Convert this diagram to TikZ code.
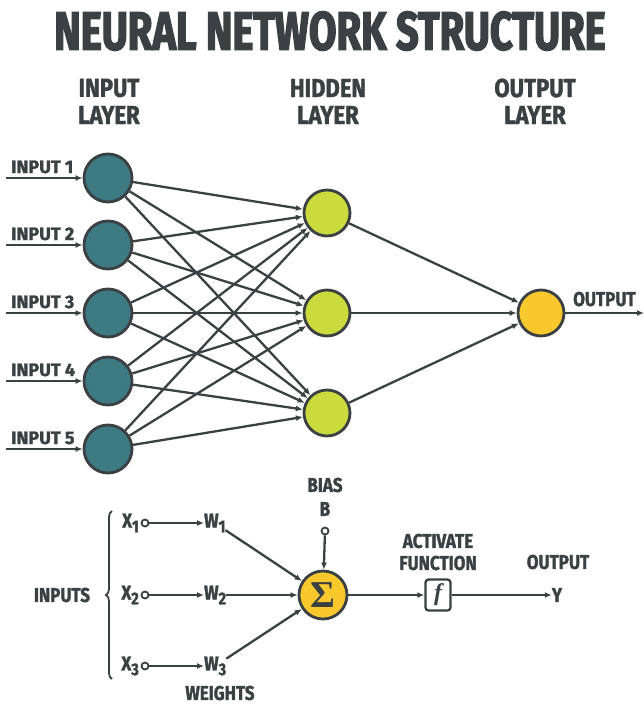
\documentclass[tikz,border=0pt]{standalone}
\usepackage{fontspec}
\usepackage{xcolor}
\usetikzlibrary{arrows.meta}
\usetikzlibrary{decorations.pathreplacing}
\setmainfont{Fira Sans}
\newfontfamily\titlefont[FakeStretch=0.74,FakeBold=2.5]{Fira Sans}
\newfontfamily\labelfont[FakeStretch=0.85,FakeBold=1.5]{Fira Sans}
\newfontfamily\smallfont[FakeStretch=1.0,FakeBold=1.5]{Fira Sans}
\newfontfamily\symbfont{Liberation Serif}

\definecolor{inkgray}{HTML}{3B4042}
\definecolor{tealnode}{HTML}{3D7A84}
\definecolor{limenode}{HTML}{CBDB3D}
\definecolor{goldnode}{HTML}{F9C82C}

\begin{document}
\begin{tikzpicture}[x=1pt,y=-1pt,
	neuron/.style={circle,draw=inkgray,line width=2.8pt,minimum size=46pt,inner sep=0pt},
	link/.style={-{Latex[length=7pt,width=6pt]},draw=inkgray,line width=2.3pt},
	plain/.style={draw=inkgray,line width=2.3pt},
	dot/.style={circle,draw=inkgray,fill=white,line width=1.8pt,minimum size=7pt,inner sep=0pt},
	lbl/.style={font=\labelfont\bfseries\fontsize{20}{20}\selectfont,text=inkgray,inner sep=0pt},
	layerlbl/.style={font=\labelfont\bfseries\fontsize{26}{26}\selectfont,text=inkgray,inner sep=0pt}]

	\useasboundingbox (0,0) rectangle (644,704);

	% Title
	\node[font=\titlefont\bfseries\fontsize{54}{54}\selectfont,text=inkgray,inner sep=0pt] (title) at (330,31) {NEURAL NETWORK STRUCTURE};

	% Layer names
	\foreach \nm/\x/\top in {in/109/INPUT,hid/328/HIDDEN,out/535/OUTPUT}{
		\node[layerlbl] (\nm name) at (\x,88) {\top};
		\node[layerlbl] (\nm name2) at (\x,115) {LAYER};
	}

	% Input layer
	\foreach \i/\y in {1/178,2/245,3/313,4/381,5/449}{
		\node[neuron,fill=tealnode,minimum size=48pt] (in\i) at (108,\y) {};
		\coordinate (src\i) at (6,\y);
		\draw[link] (src\i) -- (in\i);
		\node[lbl,font=\smallfont\bfseries\fontsize{18}{18}\selectfont,anchor=base west] (inlbl\i) at (11,\y-5) {INPUT \i};
	}

	% Hidden layer
	\foreach \j/\y in {1/213,2/313,3/413}{
		\node[neuron,fill=limenode] (hid\j) at (327,\y) {};
	}

	% Output layer
	\node[neuron,fill=goldnode] (out) at (541,313) {};

	% Connections
	\foreach \i in {1,...,5}{
		\foreach \j in {1,2,3}{
			\draw[link] (in\i) -- (hid\j);
		}
	}
	\foreach \j in {1,2,3}{
		\draw[link] (hid\j) -- (out);
	}
	\coordinate (outend) at (644,313);
	\draw[link] (out) -- (outend);
	\node[lbl,anchor=base west] (outlbl) at (573,306) {OUTPUT};

	% Single neuron
	\node[lbl] (inputs) at (62,595) {INPUTS};
	\draw[plain,line width=1.8pt,decorate,decoration={brace,amplitude=6pt}] (112,679) -- (112,511);

	\foreach \k/\y in {1/523,2/595,3/666}{
		\node[lbl,anchor=east] (x\k) at (139,\y) {X\raisebox{-0.45ex}{\fontsize{17}{17}\selectfont\k}};
		\node[dot] (xo\k) at (145,\y) {};
		\node[lbl,anchor=west] (w\k) at (204,\y) {W\raisebox{-0.45ex}{\fontsize{17}{17}\selectfont\k}};
		\draw[link] (xo\k) -- (w\k);
	}
	\node[lbl] (weights) at (220,693) {WEIGHTS};

	\node[neuron,fill=goldnode,minimum size=48pt,font=\symbfont\bfseries\fontsize{38}{38}\selectfont,text=inkgray] (sum) at (323,595) {Σ};
	\foreach \k in {1,2,3}{
		\draw[link] (w\k) -- (sum);
	}

	% Bias
	\node[lbl] (biaslbl) at (325,485) {BIAS};
	\node[lbl] (blbl) at (325,509) {B};
	\node[dot] (bias) at (325,531) {};
	\draw[link] (bias) -- (sum);

	% Activation
	\node[draw=inkgray,line width=2.3pt,rounded corners=3pt,fill=white,minimum width=25pt,minimum height=31pt,inner sep=0pt,font=\symbfont\bfseries\itshape\fontsize{24}{24}\selectfont,text=inkgray] (act) at (438,595) {f};
	\node[lbl] (actlbl) at (438,541) {ACTIVATE};
	\node[lbl] (actlbl2) at (438,563) {FUNCTION};
	\draw[link] (sum) -- (act);

	\node[lbl] (y) at (557,595) {Y};
	\node[lbl] (ylbl) at (558,562) {OUTPUT};
	\draw[link] (act) -- (y);

\end{tikzpicture}
\end{document}
